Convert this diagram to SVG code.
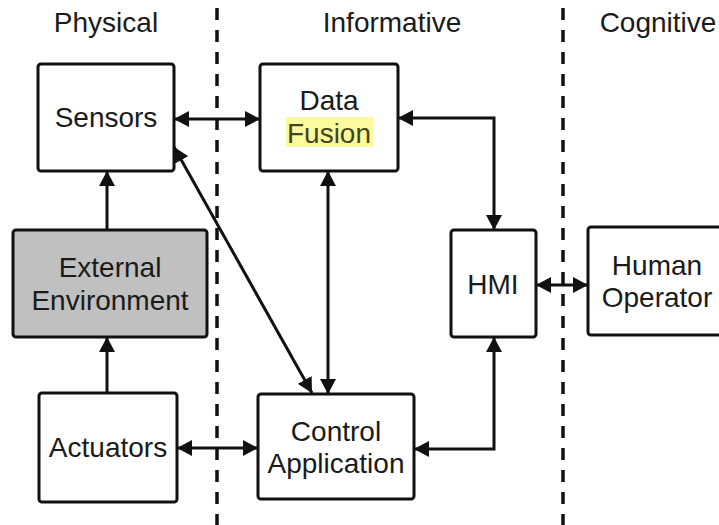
<svg xmlns="http://www.w3.org/2000/svg" width="719" height="525" viewBox="0 0 719 525">
<style>
.box{fill:#fff;stroke:#111;stroke-width:3}
.env{fill:#c0c0c0}
.t{font-family:"Liberation Sans",Arial,sans-serif;font-size:28px;fill:#1a1a1a;text-anchor:middle}
.hdr{font-family:"Liberation Sans",Arial,sans-serif;font-size:28px;fill:#1a1a1a;text-anchor:middle}
.sep{stroke:#111;stroke-width:3.5;stroke-dasharray:12 10;fill:none}
.c{stroke:#111;stroke-width:3;fill:none;marker-start:url(#ah);marker-end:url(#ah)}
.c1{stroke:#111;stroke-width:3;fill:none;marker-end:url(#ah)}
</style>
<defs>
<marker id="ah" viewBox="0 0 15 16" refX="15" refY="8" markerWidth="15" markerHeight="16" markerUnits="userSpaceOnUse" orient="auto-start-reverse">
<path d="M0,0 L15,8 L0,16 z" fill="#111"/>
</marker>
</defs>
<rect width="719" height="525" fill="#fff"/>
<g id="headers">
<text class="hdr" x="106" y="32">Physical</text>
<text class="hdr" x="392" y="32">Informative</text>
<text class="hdr" x="658" y="32">Cognitive</text>
</g>
<g id="separators">
<line class="sep" x1="217" y1="8" x2="217" y2="525"/>
<line class="sep" x1="563" y1="8" x2="563" y2="525"/>
</g>
<g id="connectors">
<line class="c" x1="174" y1="119" x2="260" y2="119"/>
<line class="c1" x1="107" y1="230" x2="107" y2="171"/>
<line class="c1" x1="107" y1="393" x2="107" y2="337"/>
<line class="c" x1="177" y1="448" x2="258" y2="448"/>
<line class="c" x1="174" y1="147" x2="312" y2="393"/>
<line class="c" x1="328" y1="171" x2="328" y2="394"/>
<polyline class="c" points="398,118 494,118 494,230"/>
<polyline class="c" points="494,337 494,449 414,449"/>
<line class="c" x1="536" y1="285" x2="588" y2="285"/>
</g>
<g id="sensors">
<rect class="box" x="38" y="64" width="136" height="107" rx="3"/>
<text class="t" x="106" y="127">Sensors</text>
</g>
<g id="data-fusion">
<rect class="box" x="260" y="64" width="138" height="107" rx="3"/>
<rect x="286" y="117" width="87" height="30" fill="#fbfb9e"/>
<text class="t" x="329" y="110">Data</text>
<text class="t" x="329" y="143" style="fill:#45451c">Fusion</text>
</g>
<g id="external-environment">
<rect class="box env" x="13" y="230" width="194" height="107" rx="3"/>
<text class="t" x="110" y="277">External</text>
<text class="t" x="110" y="310">Environment</text>
</g>
<g id="actuators">
<rect class="box" x="39" y="393" width="138" height="109" rx="3"/>
<text class="t" x="108" y="457">Actuators</text>
</g>
<g id="control-application">
<rect class="box" x="258" y="394" width="156" height="105" rx="3"/>
<text class="t" x="336" y="441">Control</text>
<text class="t" x="336" y="473">Application</text>
</g>
<g id="hmi">
<rect class="box" x="451" y="230" width="85" height="107" rx="3"/>
<text class="t" x="493" y="294">HMI</text>
</g>
<g id="human-operator">
<rect class="box" x="588" y="227" width="140" height="108" rx="3"/>
<text class="t" x="657" y="275">Human</text>
<text class="t" x="657" y="307">Operator</text>
</g>
</svg>
